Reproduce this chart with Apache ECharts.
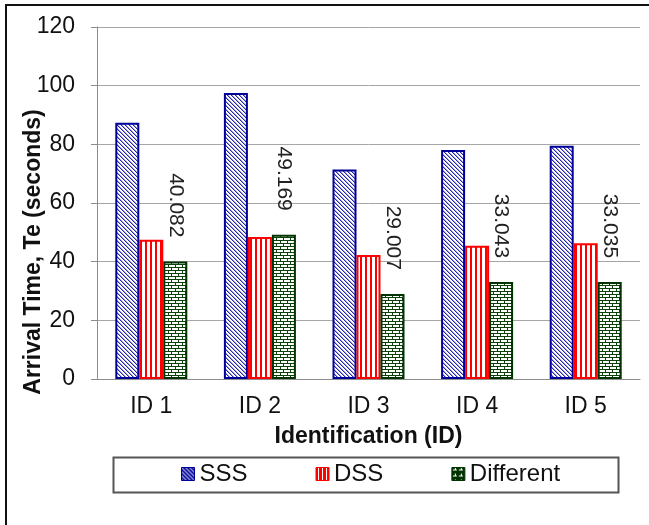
<!DOCTYPE html>
<html>
<head>
<meta charset="utf-8">
<script src="https://cdn.jsdelivr.net/npm/echarts@6/dist/echarts.min.js"></script>
<style>
html,body{margin:0;padding:0;background:#fff;}
#chart{width:649px;height:525px;}
</style>
</head>
<body>
<div id="chart"></div>
<script>
const categories = ['ID 1', 'ID 2', 'ID 3', 'ID 4', 'ID 5'];
const seriesNames = ['SSS', 'DSS', 'Different'];
const sssValues = [87.4, 97.5, 71.4, 78.1, 79.5];
const dssValues = [47.5, 48.4, 42.3, 45.4, 46.3];
const differentValues = [40.082, 49.169, 29.007, 33.043, 33.035];
const yMin = 0, yMax = 120, yStep = 20;
const xTitle = 'Identification (ID)';
const yTitle = 'Arrival Time, Te (seconds)';

const FONT = "'Liberation Sans', Arial, sans-serif";

function tile(w, h, bg, fg, pixels) {
  const c = document.createElement('canvas');
  c.width = w; c.height = h;
  const ctx = c.getContext('2d');
  ctx.fillStyle = bg; ctx.fillRect(0, 0, w, h);
  ctx.fillStyle = fg;
  pixels(ctx);
  return c;
}
// diagonal "\" hatch
function diag(ctx) { for (let i = 0; i < 4; i++) { ctx.fillRect(i, i, 1, 1); } ctx.globalAlpha = 0.45; for (let i = 0; i < 4; i++) { ctx.fillRect((i + 1) % 4, i, 1, 1); } ctx.globalAlpha = 1; }
function vert(ctx) { ctx.fillRect(0, 0, 2, 1); }
function brick(ctx) {
  ctx.fillRect(0, 0, 7, 1); ctx.fillRect(0, 3, 7, 1);
  ctx.fillRect(0, 1, 1, 2); ctx.fillRect(3, 4, 1, 2);
}
const sssFill = { image: tile(4, 4, '#ffffff', '#2a2aa8', diag), repeat: 'repeat' };
const dssFill = { image: tile(5, 1, '#ffffff', '#ff0000', vert), repeat: 'repeat' };
const difFill = { image: tile(7, 6, '#ffffff', '#0a420a', brick), repeat: 'repeat' };
const sssIcon = { image: tile(4, 4, '#1010a0', '#ffffff', function (ctx) { for (let i = 0; i < 4; i++) ctx.fillRect(i, i, 1, 1); }), repeat: 'repeat' };
const dssIcon = { image: tile(4, 1, '#ff0000', '#ffffff', function (ctx) { ctx.fillRect(2, 0, 1, 1); }), repeat: 'repeat' };
const difIcon = { image: tile(6, 6, '#003300', '#ffffff', function (ctx) { ctx.fillRect(1, 2, 4, 1); ctx.fillRect(3, 0, 1, 2); }), repeat: 'repeat' };

const chart = echarts.init(document.getElementById('chart'), null, { renderer: 'canvas' });
chart.setOption({
  backgroundColor: '#ffffff',
  animation: false,
  textStyle: { fontFamily: FONT },
  grid: { left: 97, right: 9, top: 27, bottom: 146, containLabel: false },
  legend: {
    data: [
      { name: seriesNames[0], itemStyle: { color: sssIcon, borderColor: '#000099', borderWidth: 1 } },
      { name: seriesNames[1], itemStyle: { color: dssIcon, borderColor: '#ff0000', borderWidth: 1 } },
      { name: seriesNames[2], itemStyle: { color: difIcon, borderColor: '#003300', borderWidth: 1 } }
    ],
    left: 181, top: 462, padding: 0,
    itemWidth: 13, itemHeight: 13, itemGap: 68,
    icon: 'rect',
    textStyle: { fontFamily: FONT, fontSize: 24, color: '#111', padding: [0, 0, 0, 0] }
  },
  xAxis: {
    type: 'category',
    data: categories,
    name: xTitle,
    nameLocation: 'middle',
    nameGap: 46,
    nameTextStyle: { fontFamily: FONT, fontSize: 23, fontWeight: 'bold', color: '#111' },
    axisLine: { show: true, lineStyle: { color: '#8c8c8c', width: 1 } },
    axisTick: { show: false },
    axisLabel: { fontFamily: FONT, fontSize: 23, color: '#111', margin: 16 },
    splitLine: { show: false }
  },
  yAxis: {
    type: 'value',
    min: yMin, max: yMax, interval: yStep,
    axisLine: { show: true, lineStyle: { color: '#8c8c8c', width: 1 } },
    axisTick: { show: true, length: 6, lineStyle: { color: '#8c8c8c' } },
    axisLabel: { fontFamily: FONT, fontSize: 23, color: '#111', margin: 22 },
    splitLine: { show: true, lineStyle: { color: '#a6a6a6', width: 1 } }
  },
  series: [
    {
      name: seriesNames[0], type: 'bar', data: sssValues,
      barWidth: 24, barGap: '0%',
      itemStyle: { color: sssFill, borderColor: '#000099', borderWidth: 2 }
    },
    {
      name: seriesNames[1], type: 'bar', data: dssValues,
      barWidth: 24, barGap: '0%',
      itemStyle: { color: dssFill, borderColor: '#ff0000', borderWidth: 2 }
    },
    {
      name: seriesNames[2], type: 'bar', data: differentValues,
      barWidth: 24, barGap: '0%',
      itemStyle: { color: difFill, borderColor: '#003300', borderWidth: 2 },
      label: {
        show: true, position: 'top', distance: 24, rotate: -90,
        align: 'right', verticalAlign: 'middle',
        fontFamily: FONT, fontSize: 21, color: '#222',
        formatter: function (p) { return String(p.value); }
      }
    }
  ],
  graphic: [
    { type: 'rect', shape: { x: 6, y: 5, width: 700, height: 600 }, style: { fill: 'none', stroke: '#111', lineWidth: 2 }, silent: true, z: 100 },
    { type: 'rect', shape: { x: 113.5, y: 457.5, width: 505, height: 35 }, style: { fill: 'none', stroke: '#555', lineWidth: 2 }, silent: true, z: 100 },
    { type: 'text', x: 34, y: 252, rotation: Math.PI / 2,
      style: { text: yTitle, font: 'bold 23px ' + FONT, fill: '#111', textAlign: 'center', textVerticalAlign: 'middle' }, silent: true }
  ]
});
</script>
</body>
</html>
